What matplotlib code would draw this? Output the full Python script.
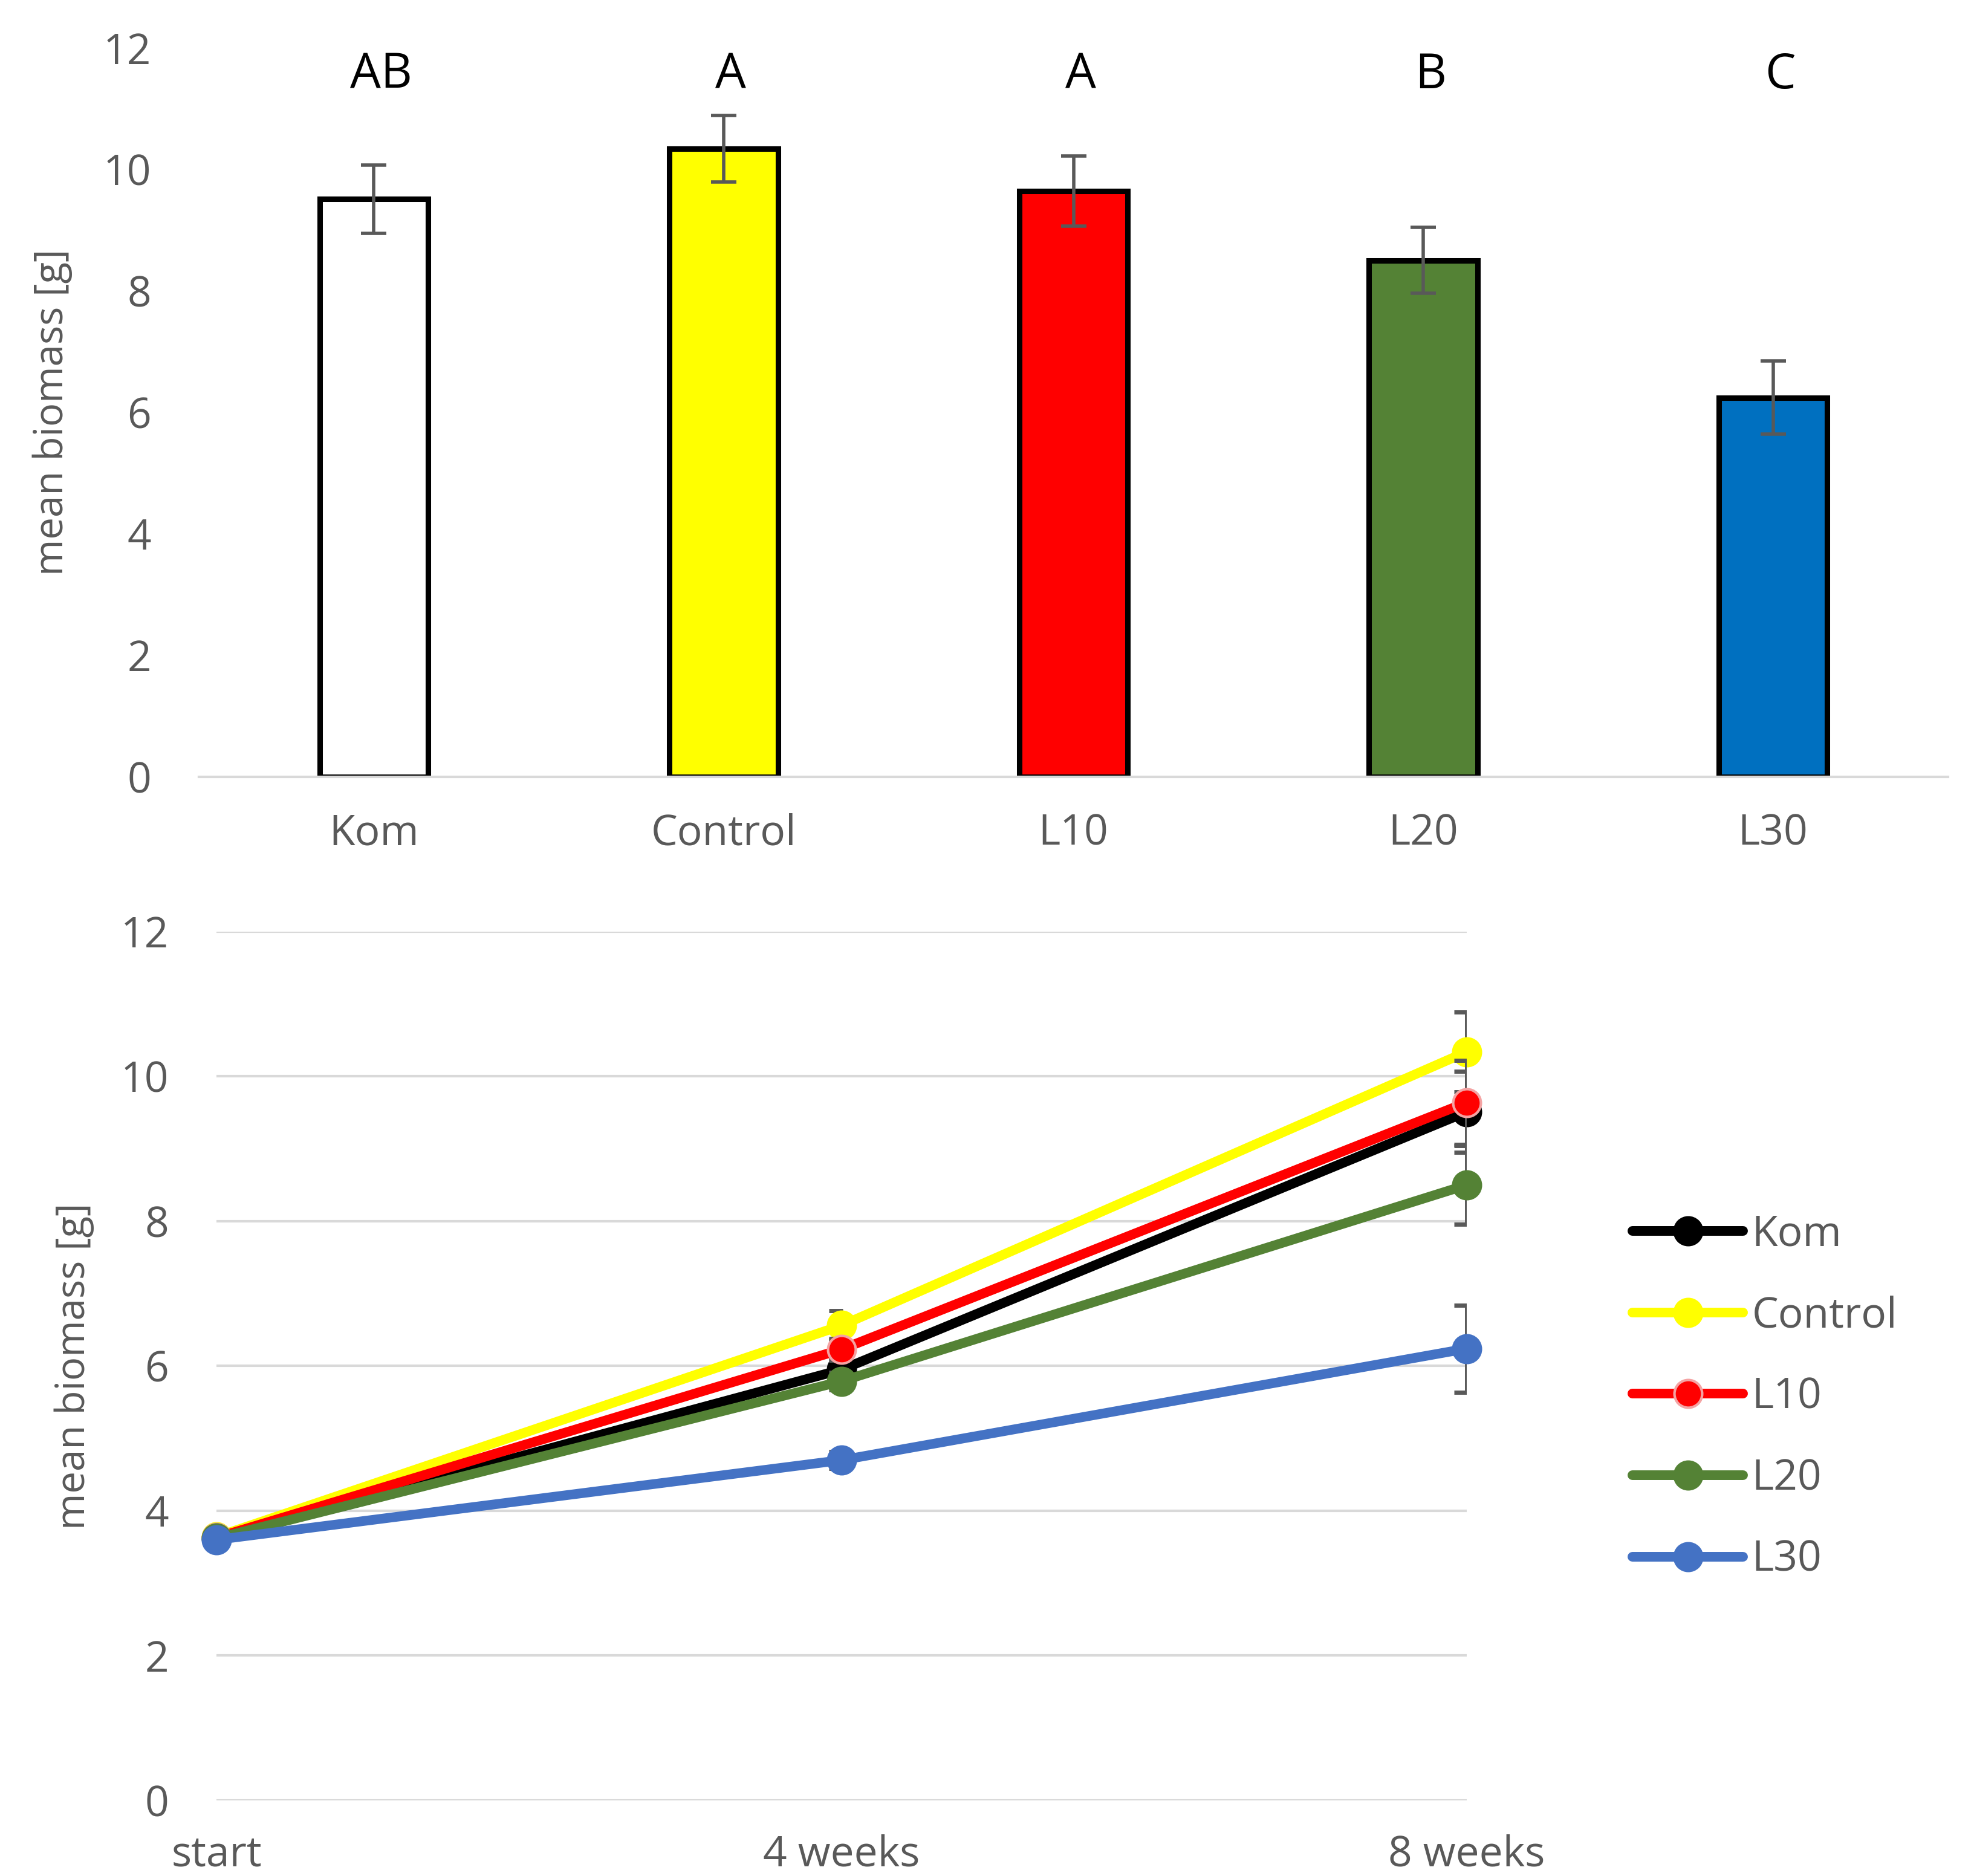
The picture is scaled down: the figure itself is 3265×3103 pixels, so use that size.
import numpy as np
import matplotlib
matplotlib.use("Agg")
import matplotlib.pyplot as plt

plt.rcParams['font.family'] = ['Open Sans', 'DejaVu Sans']

# data
groups = ['Kom', 'Control', 'L10', 'L20', 'L30']
letters = ['AB', 'A', 'A', 'B', 'C']
biomass_8w = [9.51, 10.34, 9.64, 8.50, 6.24]
err_8w = [0.56, 0.55, 0.58, 0.54, 0.60]

times = ['start', '4 weeks', '8 weeks']
biomass_start = [3.62, 3.64, 3.63, 3.62, 3.60]
biomass_4w = [5.95, 6.56, 6.23, 5.79, 4.70]
err_4w = [0.15, 0.20, 0.15, 0.12, 0.12]

bar_colors = ['#FFFFFF', '#FFFF00', '#FF0000', '#548235', '#0070C0']
line_colors = ['#000000', '#FFFF00', '#FF0000', '#548235', '#4472C4']
edge_colors = ['#000000', '#FFFF00', '#F4A3A3', '#548235', '#4472C4']

grey_txt = '#595959'
grid_col = '#D9D9D9'
fs = 50

fig = plt.figure(figsize=(32.65, 31.03), dpi=100)

# ---- top: bar chart
ax1 = fig.add_axes([0.1008, 0.586, 0.886, 0.3885])
x = np.arange(len(groups))
ax1.bar(x, biomass_8w, width=0.31, color=bar_colors, edgecolor='black',
        linewidth=6.5, zorder=2)
ax1.errorbar(x, biomass_8w, yerr=err_8w, fmt='none', ecolor=grey_txt,
             elinewidth=4, capsize=15, capthick=4, zorder=3)
for xi, lab in zip(x, letters):
    ax1.text(xi + 0.02, 11.55, lab, ha='center', va='center', fontsize=58,
             color='black')
ax1.set_xlim(-0.5, len(groups) - 0.5)
ax1.set_ylim(0, 12)
ax1.set_yticks(np.arange(0, 13, 2))
ax1.set_xticks(x)
ax1.set_xticklabels(groups)
ax1.set_ylabel('mean biomass [g]', fontsize=47, color=grey_txt, labelpad=36)
for s in ['top', 'right', 'left']:
    ax1.spines[s].set_visible(False)
ax1.spines['bottom'].set_color(grid_col)
ax1.spines['bottom'].set_linewidth(3)
ax1.tick_params(axis='both', length=0, labelsize=fs, labelcolor=grey_txt)
ax1.tick_params(axis='y', pad=57)
ax1.tick_params(axis='x', pad=43)

# ---- bottom: time course
ax2 = fig.add_axes([0.1097, 0.0403, 0.6333, 0.4631])
t = np.arange(len(times))
cap = 0.0205
for i, g in enumerate(groups):
    ys = [biomass_start[i], biomass_4w[i], biomass_8w[i]]
    es = [0.0, err_4w[i], err_8w[i]]
    lo = np.array(ys) - np.array(es)
    hi = np.array(ys) + np.array(es)
    ax2.vlines(t[1:], lo[1:], hi[1:], color=grey_txt, linewidth=5, zorder=2 + i)
    ax2.hlines(np.r_[lo[1:], hi[1:]], np.r_[t[1:], t[1:]] - cap,
               np.r_[t[1:], t[1:]] + 0.002, color=grey_txt, linewidth=5,
               zorder=2 + i)
    ax2.plot(t, ys, color=line_colors[i], linewidth=11.5, marker='o',
             markersize=33, markerfacecolor=line_colors[i],
             markeredgecolor=edge_colors[i], markeredgewidth=3,
             solid_capstyle='round', label=g, clip_on=False, zorder=3 + i)
ax2.set_xlim(0, 2)
ax2.set_ylim(0, 12)
ax2.set_yticks(np.arange(0, 13, 2))
ax2.set_xticks(t)
ax2.set_xticklabels(times)
ax2.yaxis.grid(True, color=grid_col, linewidth=3)
ax2.set_axisbelow(True)
for s in ax2.spines.values():
    s.set_visible(False)
ax2.set_ylabel('mean biomass [g]', fontsize=47, color=grey_txt, labelpad=31)
ax2.tick_params(axis='both', length=0, labelsize=fs, labelcolor=grey_txt)
ax2.tick_params(axis='y', pad=57)
ax2.tick_params(axis='x', pad=40)

leg = fig.legend(loc='center left', bbox_to_anchor=(0.827, 0.255),
                 frameon=False, fontsize=fs, handlelength=2.64,
                 handletextpad=0.2, labelspacing=0.93, borderpad=0,
                 borderaxespad=0)
for txt in leg.get_texts():
    txt.set_color(grey_txt)

fig.savefig('out.png', dpi=100, facecolor='white')
